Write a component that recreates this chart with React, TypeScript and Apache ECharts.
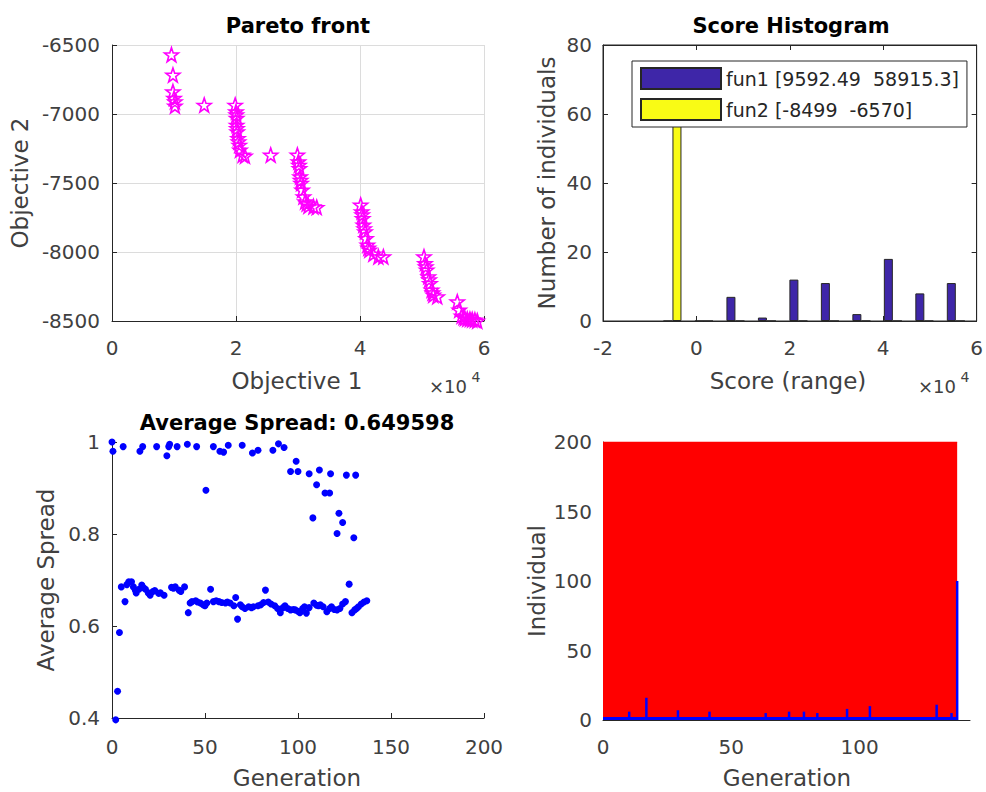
import React, { useEffect, useRef } from "react";
import * as echarts from "echarts";

// ---------- Pareto front ----------
const paretoF1 = [
  9592, 9830, 9830, 10000, 10150, 10150, 14875, 19870, 20000, 20050, 20100, 20150, 20100, 20200, 20320, 20400,
  20530, 20640, 21070, 21450, 25600, 29900, 30070, 30150, 30230, 30340, 30420, 30500, 30660, 30880, 31150, 31400,
  31680, 32490, 33020, 40110, 40270, 40350, 40430, 40540, 40680, 40810, 40970, 41190, 41350, 41510, 42150, 42960,
  43770, 50320, 50480, 50600, 50750, 51020, 51150, 51280, 51550, 51700, 51820, 52460, 55690, 56010, 56390, 56700,
  56920, 57300, 57730, 58100, 58530, 58915,
];
const paretoF2 = [
  -6570, -6717, -6838, -6886, -6910, -6942, -6935, -6935, -6983, -7005, -7031, -7105, -7080, -7128, -7176, -7200,
  -7225, -7261, -7297, -7304, -7297, -7297, -7345, -7370, -7394, -7454, -7480, -7502, -7550, -7599, -7635, -7650,
  -7666, -7671, -7676, -7659, -7708, -7730, -7756, -7804, -7830, -7852, -7901, -7949, -7970, -7985, -8014, -8034,
  -8034, -8034, -8082, -8106, -8130, -8178, -8200, -8227, -8275, -8295, -8311, -8323, -8360, -8420, -8463, -8472,
  -8480, -8485, -8488, -8490, -8492, -8499,
];

// ---------- Score histogram ----------
const binCenters = [-5128, 1613, 8355, 15096, 21837, 28578, 35319, 42060, 48801, 55542];
const fun1Counts = [0, 0, 7, 1, 12, 11, 2, 18, 8, 11];
const fun2Counts = [70, 0, 0, 0, 0, 0, 0, 0, 0, 0];
const fun1Name = "fun1 [9592.49\u00a0 58915.3]";
const fun2Name = "fun2 [-8499\u00a0 -6570]";

// ---------- Average spread ----------
const spreadGen = [
  0, 0.5, 6, 15, 16.5, 24, 29.5, 30.5, 31, 35, 40.5, 45.5, 50.5, 54.5, 58, 60, 62.5, 70, 75.5, 78.5, 86.5, 89.5,
  92.5, 96, 99, 100, 106, 108, 110, 111.5, 114.5, 117, 117.5, 121, 122, 124, 126, 130, 131,
  2, 3, 4, 5, 7, 8, 9, 10.5, 11.5, 12.5, 13, 14.5, 16, 17, 18, 19.5, 20.5, 22, 23, 25, 26, 28, 32, 33, 34, 36, 37,
  39, 41, 42, 43, 45, 46, 47.5, 49, 50, 51, 53, 54.5, 56, 57.5, 59, 61, 62, 63.5, 65.5, 66.5, 67.5, 69, 70, 71.5,
  73.5, 75, 76, 78.5, 80, 81.5, 82.5, 84, 85.5, 87.5, 89, 90.5, 92, 93, 94.5, 96, 97.5, 98.5, 100, 101, 102.5,
  103.5, 104.5, 106, 108.5, 110, 111, 112, 113.5, 115.5, 117, 118, 119.5, 121, 122.5, 124, 125.5, 127.5, 129,
  130.5, 131.5, 132.5, 134, 135.5, 137,
];
const spreadVal = [
  1.0, 0.98, 0.99, 0.98, 0.99, 0.99, 0.97, 0.99, 0.995, 0.99, 0.995, 0.99, 0.895, 0.99, 0.98, 0.978, 0.993, 0.993,
  0.976, 0.982, 0.982, 0.996, 0.988, 0.936, 0.958, 0.936, 0.931, 0.835, 0.907, 0.939, 0.889, 0.889, 0.931, 0.801,
  0.845, 0.825, 0.928, 0.792, 0.928,
  0.396, 0.458, 0.586, 0.685, 0.653, 0.69, 0.696, 0.696, 0.685, 0.678, 0.672, 0.68, 0.689, 0.683, 0.68, 0.672,
  0.667, 0.675, 0.677, 0.671, 0.672, 0.667, 0.684, 0.682, 0.685, 0.678, 0.675, 0.685, 0.629, 0.65, 0.653, 0.655,
  0.652, 0.65, 0.646, 0.644, 0.65, 0.68, 0.653, 0.655, 0.653, 0.651, 0.65, 0.652, 0.65, 0.644, 0.662, 0.615,
  0.646, 0.642, 0.638, 0.642, 0.64, 0.642, 0.644, 0.646, 0.651, 0.678, 0.652, 0.648, 0.644, 0.638, 0.629, 0.64,
  0.644, 0.638, 0.635, 0.636, 0.635, 0.632, 0.629, 0.638, 0.642, 0.628, 0.64, 0.65, 0.645, 0.644, 0.646, 0.642,
  0.631, 0.638, 0.642, 0.636, 0.635, 0.638, 0.648, 0.653, 0.691, 0.629, 0.635, 0.638, 0.642, 0.648, 0.652, 0.655,
];

// ---------- Genealogy ----------
const genRange = [0, 138];
const genTop = 200;
const genBase = 1;
const spikeGen = [10.2, 16.9, 29.2, 41.5, 63.4, 72.5, 78.3, 83.5, 95.1, 104, 130, 135.8, 138];
const spikeHeight = [6, 16, 7, 6, 5, 6, 6, 5, 8, 10, 11, 5, 100];

const FONT = '"DejaVu Sans", sans-serif';
const AXIS = "#262626";
const LABEL = "#404040";

const starPath =
  "path://M0,-10 L2.35,-3.24 L9.51,-3.09 L3.8,1.24 L5.88,8.09 L0,4 L-5.88,8.09 L-3.8,1.24 L-9.51,-3.09 L-2.35,-3.24 Z";

function baseAxis(extra: any) {
  return {
    type: "value",
    axisLine: { show: true, onZero: false, lineStyle: { color: AXIS, width: 1 } },
    axisTick: { show: true, inside: true, length: 5, lineStyle: { color: AXIS } },
    axisLabel: { color: LABEL, fontSize: 20, fontFamily: FONT },
    splitLine: { show: false },
    ...extra,
  };
}

function text(x: number, y: number, t: string, size: number, opts: any = {}) {
  return {
    type: "text",
    x,
    y,
    rotation: opts.rotation || 0,
    z: 100,
    style: {
      text: t,
      fontSize: size,
      fontFamily: FONT,
      fontWeight: opts.bold ? "bold" : "normal",
      fill: opts.color || LABEL,
      align: "center",
      verticalAlign: "middle",
    },
  };
}

export default function App() {
  const ref = useRef<HTMLDivElement>(null);
  useEffect(() => {
    if (!ref.current) return;
    const chart = echarts.init(ref.current, undefined, { renderer: "svg" });
    const e4 = (v: number) => String(Math.round(v / 10000));
    const plain = (v: number) => String(v);
    const option: any = {
      animation: false,
      backgroundColor: "#ffffff",
      grid: [
        { left: 112, top: 45, width: 372, height: 276 },
        { left: 603, top: 45, width: 374, height: 276, show: true, borderColor: AXIS, borderWidth: 1 },
        { left: 112, top: 442, width: 372, height: 276 },
        { left: 603, top: 442, width: 367, height: 278 },
      ],
      xAxis: [
        baseAxis({
          gridIndex: 0, min: 0, max: 60000, interval: 20000,
          axisLabel: { color: LABEL, fontSize: 20, fontFamily: FONT, margin: 17, formatter: e4 },
          splitLine: { show: true, lineStyle: { color: "#dcdcdc", width: 1 } },
        }),
        baseAxis({
          gridIndex: 1, min: -20000, max: 60000, interval: 20000,
          axisLabel: { color: LABEL, fontSize: 20, fontFamily: FONT, margin: 17, formatter: e4 },
        }),
        baseAxis({
          gridIndex: 1, position: "top", min: -20000, max: 60000, interval: 20000,
          axisLabel: { show: false },
        }),
        baseAxis({
          gridIndex: 2, min: 0, max: 200, interval: 50,
          axisLabel: { color: LABEL, fontSize: 20, fontFamily: FONT, margin: 19 },
        }),
        baseAxis({
          gridIndex: 3, min: 0, max: 143, interval: 50,
          axisTick: { show: false },
          axisLabel: {
            color: LABEL, fontSize: 20, fontFamily: FONT, margin: 17,
            formatter: (v: number) => (v % 50 === 0 ? String(v) : ""),
          },
        }),
      ],
      yAxis: [
        baseAxis({
          gridIndex: 0, min: -8500, max: -6500, interval: 500,
          axisLabel: { color: LABEL, fontSize: 20, fontFamily: FONT, margin: 12, formatter: plain },
          splitLine: { show: true, lineStyle: { color: "#dcdcdc", width: 1 } },
        }),
        baseAxis({
          gridIndex: 1, min: 0, max: 80, interval: 20,
          axisLabel: { color: LABEL, fontSize: 20, fontFamily: FONT, margin: 11 },
        }),
        baseAxis({
          gridIndex: 1, position: "right", min: 0, max: 80, interval: 20,
          axisLabel: { show: false },
        }),
        baseAxis({
          gridIndex: 2, min: 0.4, max: 1, interval: 0.2,
          axisLabel: {
            color: LABEL, fontSize: 20, fontFamily: FONT, margin: 12,
            formatter: (v: number) => String(Math.round(v * 10) / 10),
          },
        }),
        baseAxis({
          gridIndex: 3, min: 0, max: 200, interval: 50,
          axisTick: { show: false },
          axisLabel: { color: LABEL, fontSize: 20, fontFamily: FONT, margin: 11 },
        }),
      ],
      legend: {
        data: [fun1Name, fun2Name],
        left: 632,
        top: 61,
        orient: "vertical",
        icon: "rect",
        itemWidth: 80,
        itemHeight: 21,
        itemGap: 8,
        padding: [6, 8, 6, 8],
        borderColor: AXIS,
        borderWidth: 1,
        backgroundColor: "#ffffff",
        borderRadius: 0,
        textStyle: { fontSize: 19, fontFamily: FONT, color: "#262626" },
        z: 10,
      },
      series: [
        {
          type: "scatter",
          name: "pareto",
          xAxisIndex: 0,
          yAxisIndex: 0,
          data: paretoF1.map((v, i) => [v, paretoF2[i]]),
          symbol: starPath,
          symbolSize: 14,
          clip: false,
          itemStyle: { color: "rgba(255,0,255,0)", borderColor: "#ff00ff", borderWidth: 1.6, opacity: 1 },
        },
        {
          type: "bar",
          name: fun1Name,
          xAxisIndex: 1,
          yAxisIndex: 1,
          data: binCenters.map((c, i) => [c, fun1Counts[i]]),
          barWidth: 9,
          barGap: "0%",
          itemStyle: { color: "#3e26a8", borderColor: "#262626", borderWidth: 1 },
        },
        {
          type: "bar",
          name: fun2Name,
          xAxisIndex: 1,
          yAxisIndex: 1,
          data: binCenters.map((c, i) => [c, fun2Counts[i]]),
          barWidth: 9,
          barGap: "0%",
          itemStyle: { color: "#f9fb15", borderColor: "#262626", borderWidth: 1 },
        },
        {
          type: "scatter",
          name: "spread",
          xAxisIndex: 3,
          yAxisIndex: 3,
          data: spreadGen.map((g, i) => [g, spreadVal[i]]),
          symbolSize: 7,
          clip: false,
          itemStyle: { color: "#0000ff", opacity: 1 },
        },
        {
          type: "line",
          name: "genealogy",
          xAxisIndex: 4,
          yAxisIndex: 4,
          data: genRange.map((g) => [g, genTop]),
          showSymbol: false,
          symbol: "none",
          lineStyle: { color: "#ff0000", width: 1 },
          areaStyle: { color: "#ff0000", opacity: 1 },
          z: 2,
        },
        {
          type: "line",
          name: "genealogyBase",
          xAxisIndex: 4,
          yAxisIndex: 4,
          data: genRange.map((g) => [g, genBase]),
          symbol: "none",
          lineStyle: { color: "#0000ff", width: 3 },
          z: 3,
        },
        {
          type: "custom",
          name: "spikes",
          xAxisIndex: 4,
          yAxisIndex: 4,
          coordinateSystem: "cartesian2d",
          encode: { x: 0, y: 1 },
          data: spikeGen.map((g, i) => [g, spikeHeight[i]]),
          renderItem: (params: any, api: any) => {
            const p0 = api.coord([api.value(0), 0]);
            const p1 = api.coord([api.value(0), api.value(1)]);
            return {
              type: "line",
              shape: { x1: p0[0], y1: p0[1], x2: p1[0], y2: p1[1] },
              style: { stroke: "#0000ff", lineWidth: 2.5 },
            };
          },
          z: 4,
        },
      ],
      graphic: [
        text(298, 26, "Pareto front", 21, { bold: true, color: "#000" }),
        text(791, 26, "Score Histogram", 21, { bold: true, color: "#000" }),
        text(297, 423, "Average Spread: 0.649598", 21, { bold: true, color: "#000" }),
        text(297, 381, "Objective 1", 23),
        text(788, 381, "Score (range)", 23),
        text(297, 778, "Generation", 23),
        text(787, 778, "Generation", 23),
        text(20, 183, "Objective 2", 23, { rotation: Math.PI / 2 }),
        text(547, 183, "Number of individuals", 23, { rotation: Math.PI / 2 }),
        text(46, 580, "Average Spread", 23, { rotation: Math.PI / 2 }),
        text(537, 581, "Individual", 23, { rotation: Math.PI / 2 }),
        text(448, 386, "\u00d710", 18),
        text(476, 377, "4", 14),
        text(937, 386, "\u00d710", 18),
        text(965, 377, "4", 14),
      ],
    };
    chart.setOption(option);
    return () => chart.dispose();
  }, []);
  return (
    <div
      ref={ref}
      style={{ position: "absolute", left: 0, top: 0, width: 986, height: 792, background: "#fff" }}
    />
  );
}
